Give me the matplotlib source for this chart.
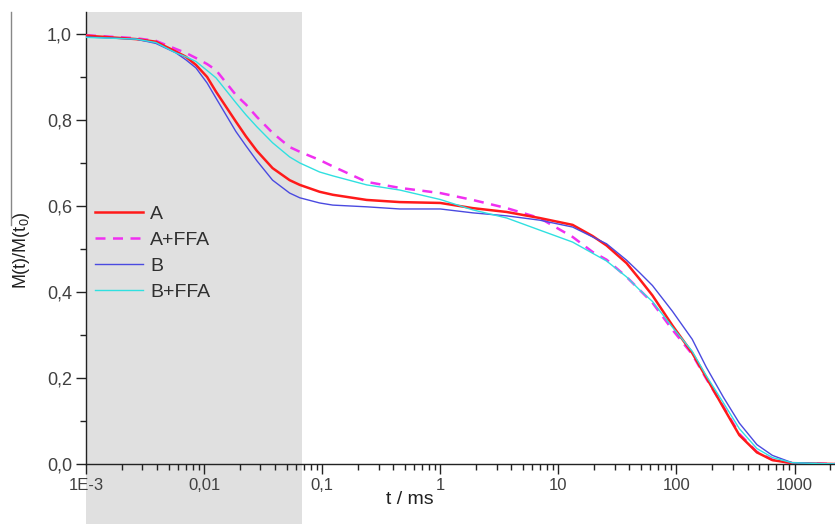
import matplotlib
matplotlib.use("Agg")
import matplotlib.pyplot as plt
from matplotlib.patches import Rectangle
from matplotlib.lines import Line2D
import matplotlib.transforms as mtransforms
from matplotlib.ticker import FixedLocator, LogLocator, NullFormatter, MultipleLocator

plt.rcParams['font.family'] = ['Liberation Sans', 'DejaVu Sans']
plt.rcParams['mathtext.fontset'] = 'custom'
plt.rcParams['mathtext.rm'] = 'Liberation Sans'
plt.rcParams['mathtext.it'] = 'Liberation Sans:italic'

# time axis (ms)
t_ms = [0.001, 0.00265, 0.0039, 0.00577, 0.0070, 0.00853, 0.0106, 0.0126, 0.0186, 0.0226,
        0.028, 0.038, 0.053, 0.0646, 0.095, 0.123, 0.238, 0.454, 1.0, 1.88,
        3.65, 6.93, 13.2, 19.5, 25.6, 37.8, 48.7, 62.6, 92.5, 136,
        179, 250, 341, 480, 649, 955, 2200]

A = [0.996, 0.988, 0.982, 0.959, 0.947, 0.928, 0.900, 0.866, 0.796, 0.762,
     0.728, 0.688, 0.660, 0.649, 0.633, 0.626, 0.614, 0.609, 0.607, 0.595,
     0.586, 0.572, 0.556, 0.530, 0.508, 0.467, 0.430, 0.392, 0.322, 0.258,
     0.201, 0.131, 0.067, 0.027, 0.009, 0.002, 0.0]
A_FFA = [0.997, 0.990, 0.984, 0.965, 0.956, 0.944, 0.930, 0.916, 0.858, 0.836,
         0.807, 0.770, 0.737, 0.726, 0.707, 0.692, 0.656, 0.642, 0.630, 0.614,
         0.595, 0.572, 0.528, 0.493, 0.475, 0.435, 0.405, 0.375, 0.312, 0.255,
         0.198, 0.133, 0.070, 0.028, 0.010, 0.002, 0.0]
B = [0.993, 0.988, 0.978, 0.956, 0.940, 0.921, 0.886, 0.851, 0.773, 0.740,
     0.705, 0.660, 0.630, 0.619, 0.607, 0.602, 0.598, 0.593, 0.593, 0.584,
     0.577, 0.567, 0.551, 0.528, 0.512, 0.474, 0.445, 0.415, 0.355, 0.290,
     0.225, 0.155, 0.095, 0.045, 0.020, 0.003, 0.0]
B_FFA = [0.992, 0.988, 0.980, 0.956, 0.947, 0.936, 0.915, 0.898, 0.840, 0.812,
         0.784, 0.747, 0.714, 0.700, 0.679, 0.670, 0.649, 0.637, 0.615, 0.591,
         0.572, 0.544, 0.516, 0.490, 0.472, 0.435, 0.405, 0.378, 0.318, 0.262,
         0.205, 0.142, 0.082, 0.036, 0.015, 0.003, 0.0]

labels = ["A", "A+FFA", "B", "B+FFA"]
x_ticks = [1e-3, 1e-2, 1e-1, 1, 10, 100, 1000]
x_ticklabels = ["1E-3", "0,01", "0,1", "1", "10", "100", "1000"]
y_ticks = [0.0, 0.2, 0.4, 0.6, 0.8, 1.0]
y_ticklabels = ["0,0", "0,2", "0,4", "0,6", "0,8", "1,0"]
shade_end = 0.067

W, H = 835, 524
fig = plt.figure(figsize=(W / 100, H / 100), dpi=100)
ax = fig.add_axes([86 / W, (H - 464) / H, (W - 86) / W, (464 - 12) / H])
ax.set_xscale('log')
ax.set_xlim(1e-3, 2200)
ax.set_ylim(0, 1.051)

# grey shaded region extending to bottom of figure
trans = mtransforms.blended_transform_factory(ax.transData, fig.transFigure)
ax.add_patch(Rectangle((1e-3, 0), shade_end - 1e-3, 1 - 12 / H, transform=trans,
                       facecolor='#e0e0e0', edgecolor='none', clip_on=False, zorder=0))

ax.plot(t_ms, A, color='#ff1a1a', lw=1.8, label=labels[0], zorder=4)
ax.plot(t_ms, A_FFA, color='#f030f0', lw=1.8, ls=(0, (4, 3)), label=labels[1], zorder=3)
ax.plot(t_ms, B, color='#4a4ae0', lw=1.0, label=labels[2], zorder=5)
ax.plot(t_ms, B_FFA, color='#30e0e0', lw=1.0, label=labels[3], zorder=6)

for s in ['top', 'right']:
    ax.spines[s].set_visible(False)
for s in ['left', 'bottom']:
    ax.spines[s].set_color('#222222')
    ax.spines[s].set_linewidth(1.0)

ax.xaxis.set_major_locator(FixedLocator(x_ticks))
ax.set_xticklabels(x_ticklabels)
ax.xaxis.set_minor_locator(LogLocator(base=10, subs=range(2, 10), numticks=20))
ax.xaxis.set_minor_formatter(NullFormatter())
ax.set_yticks(y_ticks)
ax.set_yticklabels(y_ticklabels)
ax.yaxis.set_minor_locator(MultipleLocator(0.1))

ax.tick_params(axis='both', which='major', direction='out', length=7, width=1.0,
               color='#222222', labelcolor='#404040')
ax.tick_params(axis='both', which='minor', direction='out', length=4, width=1.0, color='#222222')
ax.tick_params(axis='x', labelsize=12, pad=3)
ax.tick_params(axis='y', labelsize=13, pad=3)

ax.text((410 - 86) / (W - 86), (464 - 500) / (464 - 12), "t / ms", transform=ax.transAxes,
        ha='center', va='center', fontsize=14, color='#202020')
ax.text((22 - 86) / (W - 86), (464 - 250) / (464 - 12), r"$\mathregular{M(t)/M(t_0)}$",
        transform=ax.transAxes, ha='center', va='center', rotation=90, fontsize=13,
        color='#202020')

fig.add_artist(Line2D([11 / W, 11 / W], [1 - 12 / H, 1 - 225 / H], color='#888888', lw=1.0))

leg = ax.legend(loc='upper left', bbox_to_anchor=((95 - 86) / (W - 86), (464 - 205) / (464 - 12)),
                frameon=False, fontsize=14, handlelength=2.47, handletextpad=0.36,
                labelspacing=0.44, borderaxespad=0, borderpad=0)
for txt in leg.get_texts():
    txt.set_color('#303030')

fig.savefig('out.png', dpi=100)
